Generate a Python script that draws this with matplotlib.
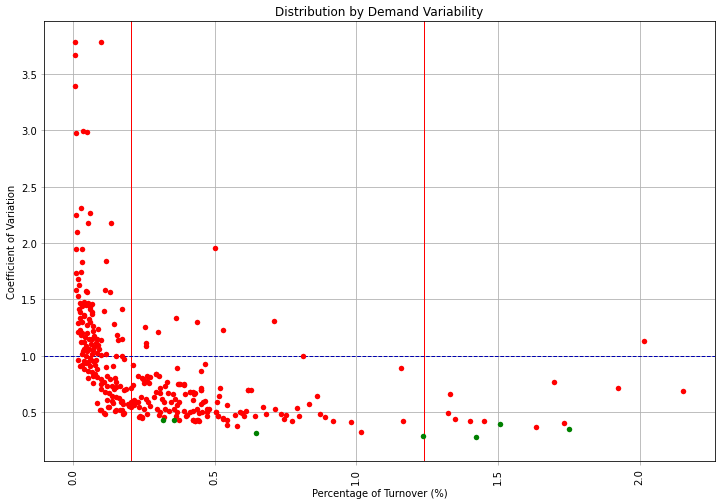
import matplotlib
matplotlib.use("Agg")
import matplotlib.pyplot as plt

# Red points (percentage of turnover, coefficient of variation)
red_x = [0.005, 0.097, 0.008, 0.006, 0.010, 0.035, 0.048, 0.027, 0.060, 0.010, 0.052, 0.134, 0.014,
         0.011, 0.030, 0.032, 0.115, 0.011, 0.027, 0.019, 0.021, 0.011, 0.111, 0.130, 0.045, 0.049, 0.016,
         0.024, 0.038, 0.053, 0.067, 0.109, 0.171, 0.021, 0.024, 0.061, 0.067, 0.023, 0.038, 0.056,
         0.019, 0.058, 0.071, 0.088, 0.144, 0.253, 0.299, 0.365, 0.438, 0.257, 0.258,
         0.023, 0.019, 0.028, 0.155, 0.172, 0.160, 0.042, 0.056, 0.074, 0.085, 0.098,
         0.028, 0.044, 0.062, 0.081, 0.087, 0.038, 0.049, 0.071, 0.091,
         0.033, 0.047, 0.067, 0.085, 0.099, 0.115, 0.150, 0.171, 0.180,
         0.019, 0.026, 0.038, 0.052, 0.061, 0.076, 0.085, 0.040, 0.052, 0.065, 0.078,
         0.117, 0.141, 0.210, 0.053, 0.070, 0.083, 0.097, 0.108, 0.120, 0.131, 0.148, 0.153,
         0.070, 0.097, 0.118, 0.139, 0.153, 0.167, 0.181, 0.188,
         0.097, 0.111, 0.127, 0.137, 0.144, 0.151,
         0.083, 0.120, 0.136, 0.162, 0.169, 0.176, 0.174,
         0.094, 0.108, 0.126, 0.150, 0.172, 0.179,
         0.213, 0.206, 0.228, 0.244, 0.261, 0.271, 0.250, 0.267, 0.291, 0.302,
         0.330, 0.326, 0.306, 0.367, 0.371, 0.391, 0.414, 0.423, 0.450, 0.452, 0.464, 0.453,
         0.206, 0.214, 0.228, 0.238, 0.256, 0.265, 0.285, 0.294, 0.306, 0.314, 0.320, 0.334,
         0.344, 0.353, 0.358, 0.367, 0.373,
         0.197, 0.214, 0.232, 0.250, 0.273, 0.297, 0.308, 0.326, 0.338, 0.355, 0.367, 0.391,
         0.414, 0.438, 0.455, 0.473,
         0.233, 0.245, 0.261, 0.303, 0.320, 0.365, 0.373, 0.402, 0.423, 0.432, 0.440, 0.473,
         0.506, 0.512, 0.528,
         0.500, 0.529, 0.710, 0.810,
         0.377, 0.391, 0.394, 0.414, 0.427, 0.451, 0.424, 0.459, 0.465, 0.450,
         0.518, 0.514, 0.507, 0.543, 0.618, 0.627, 0.671, 0.832, 0.861, 0.789,
         0.400, 0.424, 0.444, 0.471, 0.480, 0.504, 0.512, 0.530, 0.544, 0.572, 0.588, 0.596,
         0.609, 0.603, 0.641, 0.680, 0.712, 0.733, 0.743, 0.753, 0.773, 0.798, 0.871, 0.889,
         0.918, 0.980, 1.018,
         0.424, 0.430, 0.438, 0.444, 0.545, 0.580,
         1.157, 1.166, 1.329, 1.324, 1.347, 1.400, 1.452, 1.633, 1.699, 1.734, 1.925, 2.017, 2.152,
         0.030, 0.045, 0.060, 0.040, 0.065, 0.030, 0.050, 0.070, 0.030, 0.050, 0.065, 0.040,
         0.075, 0.055, 0.035, 0.060, 0.045, 0.070, 0.030, 0.080,
         0.097, 0.112, 0.124, 0.141, 0.147, 0.165, 0.176, 0.194, 0.203, 0.224, 0.235, 0.245,
         0.247, 0.261, 0.292, 0.374, 0.430, 0.616]
red_y = [3.785, 3.785, 3.665, 3.390, 2.980, 2.990, 2.985, 2.310, 2.270, 2.250, 2.180, 2.180, 2.100,
         1.950, 1.950, 1.830, 1.840, 1.730, 1.740, 1.680, 1.630, 1.580, 1.585, 1.560, 1.575, 1.560, 1.530,
         1.467, 1.473, 1.467, 1.458, 1.400, 1.413, 1.413, 1.384, 1.413, 1.384, 1.331, 1.349, 1.325,
         1.289, 1.295, 1.260, 1.236, 1.280, 1.256, 1.212, 1.334, 1.298, 1.109, 1.083,
         1.227, 1.212, 1.183, 1.183, 1.147, 1.141, 1.162, 1.147, 1.171, 1.147, 1.136,
         1.118, 1.083, 1.103, 1.112, 1.094, 1.059, 1.043, 1.052, 1.059,
         1.014, 0.999, 1.014, 1.023, 1.005, 1.012, 0.994, 0.994, 0.970,
         0.964, 0.910, 0.955, 0.941, 0.910, 0.917, 0.881, 0.881, 0.866, 0.852, 0.834,
         0.902, 0.905, 0.917, 0.801, 0.822, 0.807, 0.792, 0.768, 0.822, 0.792, 0.804, 0.768,
         0.757, 0.748, 0.733, 0.733, 0.721, 0.728, 0.697, 0.704,
         0.704, 0.680, 0.668, 0.644, 0.704, 0.633,
         0.579, 0.609, 0.595, 0.621, 0.586, 0.571, 0.600,
         0.515, 0.491, 0.541, 0.515, 0.520, 0.488,
         0.742, 0.710, 0.822, 0.799, 0.822, 0.807, 0.757, 0.757, 0.834, 0.822,
         0.763, 0.728, 0.710, 0.893, 0.745, 0.739, 0.680, 0.674, 0.710, 0.698, 0.925, 0.866,
         0.586, 0.609, 0.591, 0.630, 0.615, 0.586, 0.630, 0.674, 0.668, 0.615, 0.586, 0.668,
         0.586, 0.660, 0.615, 0.562, 0.586,
         0.555, 0.562, 0.541, 0.526, 0.550, 0.526, 0.502, 0.526, 0.511, 0.526, 0.502, 0.511,
         0.502, 0.526, 0.502, 0.526,
         0.458, 0.444, 0.479, 0.473, 0.450, 0.461, 0.431, 0.473, 0.431, 0.422, 0.431, 0.467,
         0.502, 0.467, 0.444,
         1.952, 1.230, 1.307, 0.994,
         0.745, 0.745, 0.659, 0.680, 0.662, 0.695, 0.609, 0.586, 0.597, 0.573,
         0.710, 0.644, 0.588, 0.564, 0.695, 0.692, 0.547, 0.571, 0.644, 0.535,
         0.467, 0.511, 0.491, 0.502, 0.523, 0.502, 0.467, 0.438, 0.426, 0.473, 0.502, 0.488,
         0.508, 0.467, 0.461, 0.482, 0.523, 0.482, 0.438, 0.473, 0.423, 0.467, 0.482, 0.452,
         0.423, 0.408, 0.325,
         0.431, 0.420, 0.426, 0.422, 0.387, 0.378,
         0.887, 0.422, 0.657, 0.488, 0.437, 0.422, 0.422, 0.364, 0.768, 0.399, 0.713, 1.132, 0.689,
         1.440, 1.450, 1.430, 1.360, 1.370, 1.300, 1.270, 1.220, 1.200, 1.200, 1.150, 1.120,
         1.080, 1.060, 1.040, 0.980, 0.930, 0.950, 0.920, 0.960,
         0.517, 0.479, 0.541, 0.579, 0.511, 0.520, 0.482, 0.571, 0.541, 0.585, 0.461, 0.452,
         0.792, 0.777, 0.837, 0.748, 0.668, 0.695]

# Green points
green_x = [0.317, 0.355, 0.647, 1.237, 1.421, 1.506, 1.750]
green_y = [0.431, 0.429, 0.316, 0.289, 0.278, 0.393, 0.349]

# Reference lines
turnover_cut = 0.206
turnover_cut2 = 1.239
cv_cut = 1.0

fig = plt.figure(figsize=(10, 6.972), dpi=72)
ax = fig.add_axes([0.061, 0.080, 0.932, 0.876])

ax.scatter(red_x, red_y, s=30, c="red", linewidths=0, zorder=3)
ax.scatter(green_x, green_y, s=30, c="green", linewidths=0, zorder=3)

ax.axvline(turnover_cut, color="red", lw=1, zorder=2)
ax.axvline(turnover_cut2, color="red", lw=1, zorder=2)
ax.axhline(cv_cut, color="#0000b0", lw=1, ls="--", zorder=2)

ax.grid(True, color="#b0b0b0", lw=0.8, zorder=0)
ax.set_axisbelow(True)
ax.set_title("Distribution by Demand Variability", fontsize=12)
ax.set_xlabel("Percentage of Turnover (%)", fontsize=10)
ax.set_ylabel("Coefficient of Variation", fontsize=10)
ax.set_xticks([0.0, 0.5, 1.0, 1.5, 2.0])
ax.set_yticks([0.5, 1.0, 1.5, 2.0, 2.5, 3.0, 3.5])
ax.tick_params(axis="x", labelrotation=90)
ax.tick_params(color="#b0b0b0")
ax.set_xlim(-0.103, 2.266)
ax.set_ylim(0.065, 3.97)

fig.savefig("out.png", dpi=72)
